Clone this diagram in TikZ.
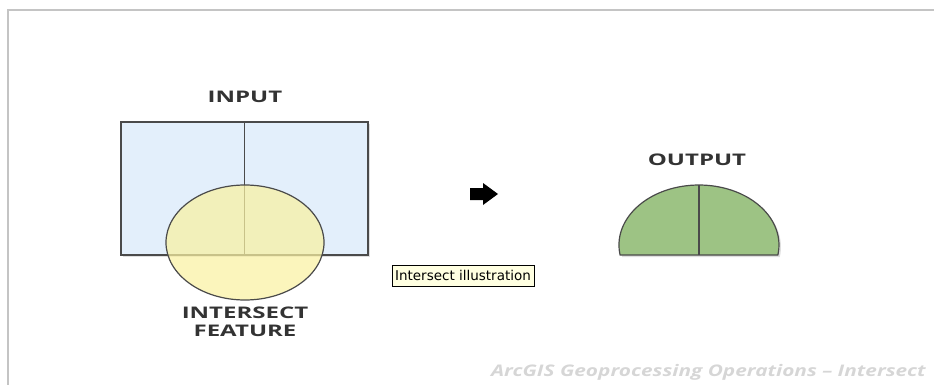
\documentclass[tikz,border=0pt]{standalone}
\usepackage{fontspec}
\setmainfont{DejaVu Sans}
\newfontfamily\labelfont[FakeStretch=1.5]{Open Sans}
\newfontfamily\footfont[FakeStretch=1.3]{Open Sans}
\usetikzlibrary{shapes.geometric,shadows}
\definecolor{inputblue}{HTML}{E3EFFB}
\definecolor{featureyellow}{HTML}{F9F1A2}
\definecolor{outputgreen}{HTML}{9DC384}
\definecolor{edgegray}{HTML}{4A4A4A}
\definecolor{textgray}{HTML}{333333}
\definecolor{framegray}{HTML}{C4C4C4}
\definecolor{footgray}{HTML}{D6D6D6}
\definecolor{tipyellow}{HTML}{FFFFE1}
\tikzset{
  outline/.style={draw=edgegray, line width=1.2pt},
  caption/.style={font=\labelfont\bfseries\fontsize{16}{18}\selectfont, text=textgray, align=center, inner sep=0pt},
  inputbox/.style={outline, fill=inputblue, rectangle, inner sep=0pt,
    drop shadow={shadow xshift=2pt, shadow yshift=-2pt, opacity=0.25}},
  featureshape/.style={outline, fill=featureyellow, fill opacity=0.72, ellipse, inner sep=0pt},
  outputshape/.style={outline, fill=outputgreen,
    drop shadow={shadow xshift=2pt, shadow yshift=-2pt, opacity=0.25}},
  tipbox/.style={draw=black, line width=0.8pt, fill=tipyellow, inner sep=0pt,
    font=\fontsize{13.5}{15}\selectfont, minimum width=142pt, minimum height=21pt}
}

\begin{document}
\begin{tikzpicture}[x=1pt,y=-1pt]
  \useasboundingbox (0,0) rectangle (934,385);
  % page frame
  \draw[framegray, line width=2pt] (8,385) |- (934,10);

  % input polygons
  \node[caption] (inputlabel) at (245,97) {INPUT};
  \node[inputbox, minimum width=247pt, minimum height=133pt] (input) at (244.5,188.5) {};
  \draw[outline] (input.north) -- (input.south);

  % intersect feature
  \node[featureshape, minimum width=158pt, minimum height=115pt] (feature) at (245,242.5) {};
  \node[caption, text depth=0pt] (featurelabel) at (245,322) {INTERSECT\\FEATURE};

  % arrow
  \coordinate (arrow) at (484,194);
  \fill[black] (arrow) ++(-14,-6) -- ++(13,0) -- ++(0,-5) -- ++(15,11)
    -- ++(-15,11) -- ++(0,-5) -- ++(-13,0) -- cycle;

  % output
  \node[caption] (outputlabel) at (697,160) {OUTPUT};
  \coordinate (outtop) at (699,185);
  \coordinate (outbase) at (699,255);
  \draw[outputshape] (620.1,255) arc[start angle=170.4, end angle=369.6, x radius=80, y radius=60] -- cycle;
  \draw[outline] (outtop) -- (outbase);

  % tooltip
  \node[tipbox] (tip) at (463,275.5) {Intersect illustration};

  % footer
  \node[anchor=base east, inner sep=0pt, text=footgray,
    font=\footfont\bfseries\itshape\fontsize{16}{18}\selectfont] (footer) at (926,376)
    {ArcGIS Geoprocessing Operations – Intersect};
\end{tikzpicture}
\end{document}
